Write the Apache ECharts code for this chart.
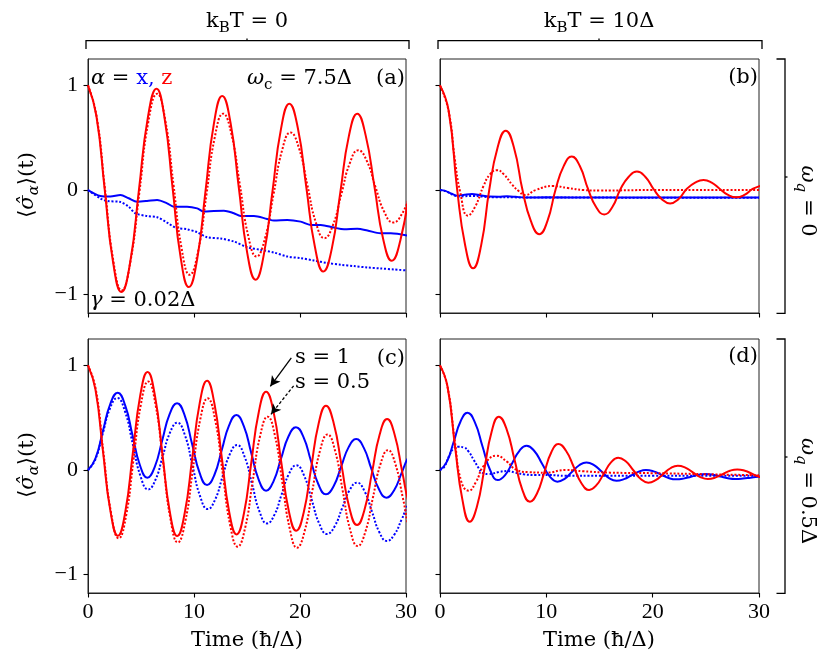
<!DOCTYPE html>
<html><head><meta charset="utf-8">
<script src="https://cdn.jsdelivr.net/npm/echarts@6/dist/echarts.min.js"></script>
<style>html,body{margin:0;padding:0;background:#fff}#c{width:830px;height:666px}</style>
</head><body><div id="c"></div>
<script>
// ---------- tick values ----------
const timeTicks = [0, 10, 20, 30];
const yTicks = [-1, 0, 1];

// ---------- panel (a): kBT = 0, wq = 0 ----------
const aZs1 = [[0,1],[0.79,0.71],[1.57,0.012],[2.36,-0.686],[3.15,-0.975],[3.98,-0.69],[4.8,-0.003],[5.63,0.683],[6.46,0.968],[7.22,0.69],[7.98,0.02],[8.75,-0.65],[9.51,-0.927],[10.3,-0.66],[11.08,-0.015],[11.87,0.63],[12.66,0.898],[13.45,0.64],[14.23,0.02],[15.02,-0.6],[15.81,-0.857],[16.6,-0.61],[17.4,-0.016],[18.2,0.58],[18.99,0.825],[19.8,0.59],[20.6,0.024],[21.4,-0.54],[22.2,-0.778],[23.0,-0.56],[23.8,-0.024],[24.6,0.51],[25.4,0.73],[26.2,0.52],[27.03,0.027],[27.85,-0.47],[28.66,-0.676],[29.47,-0.48],[30.28,-0.02]];
const aZs05 = [[0,1],[0.8,0.71],[1.59,0.02],[2.38,-0.67],[3.18,-0.96],[4.0,-0.685],[4.85,-0.02],[5.68,0.645],[6.52,0.92],[7.29,0.667],[8.06,0.055],[8.83,-0.557],[9.6,-0.81],[10.39,-0.584],[11.18,-0.04],[11.96,0.504],[12.75,0.73],[13.54,0.53],[14.33,0.048],[15.11,-0.435],[15.9,-0.635],[16.7,-0.461],[17.5,-0.043],[18.3,0.376],[19.1,0.55],[19.9,0.402],[20.7,0.045],[21.5,-0.312],[22.3,-0.46],[23.1,-0.337],[23.9,-0.04],[24.7,0.257],[25.5,0.38],[26.3,0.279],[27.1,0.035],[27.95,-0.209],[28.8,-0.31],[29.62,-0.228],[30.45,-0.03]];
const aXs1 = [[0,0],[1.17,-0.057],[2.11,-0.063],[3.06,-0.048],[3.84,-0.079],[4.63,-0.111],[5.57,-0.105],[6.52,-0.095],[7.46,-0.127],[8.09,-0.159],[9.35,-0.159],[10.3,-0.175],[10.93,-0.206],[11.87,-0.2],[12.82,-0.197],[13.76,-0.222],[14.4,-0.248],[15.65,-0.248],[16.9,-0.276],[17.54,-0.292],[18.8,-0.286],[20.06,-0.302],[21.0,-0.333],[21.95,-0.333],[23.2,-0.359],[24.16,-0.375],[25.4,-0.371],[26.36,-0.387],[27.6,-0.413],[28.57,-0.413],[30.1,-0.435]];
const aXs05 = [[0,0],[1.17,-0.08],[1.8,-0.105],[3.06,-0.114],[3.84,-0.159],[4.47,-0.222],[5.57,-0.248],[6.52,-0.26],[7.46,-0.311],[8.25,-0.359],[9.35,-0.375],[10.3,-0.403],[11.24,-0.451],[12.5,-0.463],[13.76,-0.492],[15.02,-0.546],[16.28,-0.571],[17.54,-0.597],[18.8,-0.635],[20.06,-0.651],[21.3,-0.673],[22.58,-0.698],[23.84,-0.714],[25.1,-0.727],[26.36,-0.74],[27.6,-0.749],[28.88,-0.759],[29.98,-0.768]];

// ---------- panel (b): kBT = 10Δ, wq = 0 ----------
const bZs1 = [[0,1],[0.81,0.76],[1.62,0.0],[2.37,-0.53],[3.11,-0.748],[3.87,-0.529],[4.63,0.0],[5.4,0.4],[6.18,0.567],[6.97,0.4],[7.76,0.0],[8.55,-0.298],[9.34,-0.422],[10.1,-0.297],[10.87,0.005],[11.63,0.228],[12.39,0.32],[13.15,0.229],[13.92,0.01],[14.68,-0.162],[15.44,-0.233],[16.21,-0.162],[16.98,0.01],[17.75,0.127],[18.52,0.176],[19.3,0.127],[20.08,0.01],[20.86,-0.088],[21.64,-0.128],[22.42,-0.088],[23.2,0.01],[23.99,0.071],[24.78,0.096],[25.55,0.071],[26.32,0.01],[27.09,-0.047],[27.86,-0.07],[28.63,-0.047],[29.4,0.01],[30.17,0.042],[30.95,0.055]];
const bZs05 = [[0,1],[0.8,0.76],[1.4,0.29],[1.9,-0.02],[2.62,-0.245],[3.3,-0.16],[4.1,0.04],[4.7,0.15],[5.35,0.19],[6.0,0.15],[6.8,0.05],[7.4,-0.01],[8.0,-0.048],[9.0,0.0],[10.6,0.038],[12.0,0.02],[13.5,0.0],[15.0,-0.005],[20.0,0.0],[30.0,0.0]];
const bXs1 = [[0,0],[0.5,-0.008],[1.1,-0.035],[1.6,-0.054],[2.3,-0.045],[3.0,-0.038],[3.8,-0.05],[4.6,-0.063],[5.5,-0.064],[6.3,-0.06],[7.1,-0.065],[8.0,-0.072],[10.0,-0.07],[15.0,-0.072],[20.0,-0.072],[25.0,-0.072],[30.0,-0.072]];
const bXs05 = [[0,0],[0.5,-0.01],[1.1,-0.04],[1.8,-0.062],[2.6,-0.058],[3.4,-0.058],[4.6,-0.068],[6.0,-0.068],[8.0,-0.072],[12.0,-0.072],[20.0,-0.073],[30.0,-0.073]];

// ---------- panel (c): kBT = 0, wq = 0.5Δ ----------
const cZs1 = [[0,1],[0.7,0.77],[1.4,0.19],[2.11,-0.388],[2.82,-0.628],[3.52,-0.399],[4.22,0.155],[4.92,0.708],[5.62,0.937],[6.32,0.708],[7.02,0.155],[7.72,-0.4],[8.42,-0.63],[9.12,-0.413],[9.83,0.11],[10.53,0.635],[11.23,0.853],[11.92,0.638],[12.62,0.12],[13.32,-0.4],[14.02,-0.615],[14.71,-0.415],[15.4,0.067],[16.1,0.548],[16.8,0.748],[17.51,0.553],[18.22,0.084],[18.93,-0.385],[19.65,-0.58],[20.35,-0.405],[21.05,0.018],[21.75,0.44],[22.45,0.615],[23.18,0.448],[23.92,0.045],[24.65,-0.358],[25.38,-0.525],[26.09,-0.377],[26.8,-0.02],[27.51,0.338],[28.22,0.487],[28.93,0.338],[29.65,-0.02],[30.35,-0.345],[31.05,-0.48]];
const cZs05 = [[0,1],[0.72,0.78],[1.45,0.17],[2.18,-0.412],[2.9,-0.653],[3.6,-0.433],[4.29,0.097],[4.99,0.627],[5.68,0.846],[6.38,0.621],[7.08,0.077],[7.78,-0.467],[8.47,-0.692],[9.18,-0.49],[9.88,-0.004],[10.59,0.483],[11.29,0.685],[12.0,0.477],[12.7,-0.024],[13.41,-0.525],[14.12,-0.732],[14.83,-0.55],[15.53,-0.11],[16.24,0.328],[16.95,0.51],[17.64,0.327],[18.33,-0.116],[19.03,-0.559],[19.72,-0.742],[20.44,-0.583],[21.16,-0.2],[21.88,0.182],[22.6,0.34],[23.31,0.184],[24.02,-0.193],[24.73,-0.57],[25.44,-0.726],[26.16,-0.592],[26.87,-0.268],[27.59,0.056],[28.3,0.19],[29.0,0.057],[29.7,-0.265],[30.4,-0.587],[31.1,-0.72]];
const cXs1 = [[0,0],[0.7,0.11],[1.4,0.37],[2.1,0.631],[2.8,0.739],[3.5,0.62],[4.2,0.333],[4.9,0.046],[5.6,-0.073],[6.3,0.031],[7.0,0.283],[7.7,0.534],[8.4,0.638],[9.11,0.524],[9.82,0.248],[10.53,-0.028],[11.23,-0.143],[11.93,-0.045],[12.62,0.191],[13.31,0.427],[14.0,0.525],[14.7,0.419],[15.4,0.164],[16.1,-0.091],[16.8,-0.197],[17.5,-0.108],[18.2,0.106],[18.91,0.32],[19.62,0.408],[20.33,0.314],[21.03,0.088],[21.74,-0.138],[22.45,-0.232],[23.17,-0.155],[23.88,0.032],[24.59,0.219],[25.3,0.296],[26.01,0.214],[26.72,0.016],[27.44,-0.182],[28.15,-0.264],[28.87,-0.195],[29.58,-0.03],[30.29,0.133],[31.0,0.2]];
const cXs05 = [[0,0],[0.69,0.1],[1.38,0.344],[2.07,0.587],[2.76,0.688],[3.49,0.56],[4.22,0.25],[4.95,-0.058],[5.68,-0.185],[6.37,-0.092],[7.05,0.133],[7.74,0.359],[8.43,0.452],[9.15,0.331],[9.86,0.04],[10.58,-0.252],[11.29,-0.373],[11.99,-0.283],[12.68,-0.067],[13.37,0.149],[14.06,0.239],[14.77,0.129],[15.48,-0.135],[16.19,-0.4],[16.89,-0.51],[17.58,-0.429],[18.27,-0.232],[18.96,-0.036],[19.65,0.045],[20.38,-0.051],[21.1,-0.283],[21.83,-0.515],[22.55,-0.611],[23.26,-0.539],[23.97,-0.366],[24.68,-0.193],[25.38,-0.121],[26.09,-0.203],[26.8,-0.4],[27.5,-0.597],[28.2,-0.678],[28.9,-0.617],[29.6,-0.47],[30.3,-0.32],[31.0,-0.26]];

// ---------- panel (d): kBT = 10Δ, wq = 0.5Δ ----------
const dZs1 = [[0,1],[0.7,0.8],[1.42,0.22],[2.11,-0.285],[2.8,-0.494],[3.48,-0.347],[4.17,0.008],[4.85,0.363],[5.53,0.51],[6.26,0.391],[7.0,0.103],[7.73,-0.184],[8.46,-0.303],[9.13,-0.222],[9.8,-0.027],[10.46,0.167],[11.13,0.248],[11.85,0.184],[12.58,0.029],[13.3,-0.126],[14.03,-0.19],[14.71,-0.145],[15.4,-0.036],[16.08,0.073],[16.76,0.118],[17.47,0.083],[18.18,-0.002],[18.88,-0.086],[19.59,-0.121],[20.28,-0.097],[20.98,-0.04],[21.67,0.017],[22.36,0.041],[23.07,0.023],[23.78,-0.022],[24.48,-0.067],[25.19,-0.086],[25.88,-0.073],[26.58,-0.04],[27.27,-0.007],[27.96,0.006],[28.67,-0.007],[29.38,-0.037],[30.09,-0.067],[30.8,-0.08]];
const dZs05 = [[0,1],[0.7,0.8],[1.4,0.27],[2.0,-0.11],[2.7,-0.197],[3.4,-0.11],[4.1,0.04],[5.3,0.137],[6.3,0.08],[7.1,0.006],[8.3,-0.02],[10.0,-0.025],[11.8,0.0],[13.5,-0.012],[16.0,-0.025],[20.0,-0.03],[25.0,-0.04],[30.0,-0.05]];
const dXs1 = [[0,0],[0.65,0.08],[1.29,0.27],[1.94,0.466],[2.58,0.547],[3.29,0.453],[4.0,0.225],[4.72,-0.002],[5.44,-0.096],[6.12,-0.048],[6.8,0.068],[7.47,0.184],[8.14,0.232],[8.87,0.182],[9.6,0.06],[10.32,-0.061],[11.04,-0.111],[11.72,-0.084],[12.4,-0.019],[13.09,0.046],[13.77,0.073],[14.49,0.047],[15.2,-0.015],[15.9,-0.077],[16.6,-0.102],[17.3,-0.087],[18.0,-0.051],[18.69,-0.015],[19.37,0.0],[20.09,-0.013],[20.8,-0.045],[21.5,-0.076],[22.2,-0.089],[22.9,-0.082],[23.6,-0.064],[24.29,-0.046],[24.97,-0.038],[25.67,-0.045],[26.37,-0.062],[27.07,-0.079],[27.77,-0.086],[28.49,-0.082],[29.2,-0.073],[29.9,-0.064],[30.6,-0.06]];
const dXs05 = [[0,0],[0.4,0.03],[0.82,0.127],[1.29,0.206],[1.76,0.222],[2.23,0.216],[2.7,0.175],[3.18,0.095],[3.65,0.016],[3.96,-0.025],[4.59,-0.038],[5.53,-0.019],[6.32,-0.01],[7.1,-0.025],[7.9,-0.041],[9.0,-0.048],[10.25,-0.048],[11.8,-0.055],[15.0,-0.055],[20.0,-0.055],[25.0,-0.055],[30.0,-0.055]];

// arrows in panel (c): [from, to] in data coordinates
const arrowS1 = [[19.18,1.072],[17.2,0.80]];
const arrowS05 = [[19.4,0.805],[17.26,0.532]];

const RED = '#ff0000', BLUE = '#0000ff';
const F = 'DejaVu Serif', FN = 'Liberation Serif';
const FS = 21;
const DOT = [2, 1.8];
const FRAME = '#222';

const grids = [
  {left: 88, top: 59, width: 318, height: 254},
  {left: 440, top: 59, width: 319, height: 254},
  {left: 88, top: 339, width: 318, height: 254},
  {left: 440, top: 339, width: 319, height: 254}
].map(g => Object.assign(g, {show: true, borderColor: FRAME, borderWidth: 1, backgroundColor: 'transparent'}));

const minusFmt = v => (v < 0 ? '\u2212' + Math.abs(v) : String(v));

const xAxes = [0,1,2,3].map(i => ({
  gridIndex: i, type: 'value', min: 0, max: 30, interval: 10, position: 'bottom',
  axisLine: {show: true, onZero: false, lineStyle: {color: FRAME, width: 1}}, splitLine: {show: false},
  axisTick: {show: true, inside: false, length: 4.5, lineStyle: {color: '#000', width: 1.1}},
  axisLabel: {show: i >= 2, fontFamily: FN, fontSize: 22, color: '#000', margin: 8, formatter: minusFmt}
}));
const yAxes = [0,1,2,3].map(i => ({
  gridIndex: i, type: 'value', min: -1.175, max: 1.252, position: 'left',
  axisLine: {show: true, onZero: false, lineStyle: {color: FRAME, width: 1}}, splitLine: {show: false},
  axisTick: {show: true, inside: false, length: 4.5, lineStyle: {color: '#000', width: 1.1}, customValues: yTicks},
  axisLabel: {show: i % 2 === 0, customValues: yTicks, fontFamily: FN, fontSize: 22, color: '#000', margin: 10, formatter: minusFmt}
}));

function ln(data, idx, color, dotted, extra) {
  return Object.assign({
    type: 'line', xAxisIndex: idx, yAxisIndex: idx, data: data,
    symbol: 'none', showSymbol: false, smooth: 0.5, clip: true, silent: true,
    lineStyle: {color: color, width: 2, type: dotted ? DOT : 'solid'}
  }, extra || {});
}

function arrowML(pair, type) {
  return {
    silent: true, symbol: ['none', 'arrow'], symbolSize: [8, 10],
    label: {show: false},
    lineStyle: {color: '#000', width: 1.3, type: type},
    data: [[{coord: pair[0]}, {coord: pair[1]}]]
  };
}

const series = [
  ln(aXs1, 0, BLUE, false, {smooth: 0.3}), ln(aXs05, 0, BLUE, true, {smooth: 0.3}),
  ln(aZs1, 0, RED, false), ln(aZs05, 0, RED, true),
  ln(bXs1, 1, BLUE, false, {smooth: 0.3}), ln(bXs05, 1, BLUE, true, {smooth: 0.3}),
  ln(bZs1, 1, RED, false), ln(bZs05, 1, RED, true),
  ln(cXs1, 2, BLUE, false), ln(cXs05, 2, BLUE, true),
  ln(cZs1, 2, RED, false, {markLine: arrowML(arrowS1, 'solid')}),
  ln(cZs05, 2, RED, true, {markLine: arrowML(arrowS05, [3, 2])}),
  ln(dXs1, 3, BLUE, false), ln(dXs05, 3, BLUE, true),
  ln(dZs1, 3, RED, false), ln(dZs05, 3, RED, true)
];

// ---------- rich text styles ----------
function rich(fs) {
  const sub = Math.round(fs * 0.7);
  const lh = fs + 5;
  const pad = Math.round(fs * 0.57);
  return {
    n: {fontFamily: F, fontSize: fs, lineHeight: lh, fill: '#000'},
    i: {fontFamily: F, fontSize: fs, lineHeight: lh, fontStyle: 'italic', fill: '#000'},
    s: {fontFamily: F, fontSize: sub, lineHeight: sub, padding: [pad, 0, 0, 0], fill: '#000'},
    si: {fontFamily: F, fontSize: sub, lineHeight: sub, padding: [pad, 0, 0, 0], fontStyle: 'italic', fill: '#000'},
    b: {fontFamily: F, fontSize: fs, lineHeight: lh, fill: BLUE},
    r: {fontFamily: F, fontSize: fs, lineHeight: lh, fill: RED}
  };
}
function txt(text, x, y, align, rot) {
  return {
    type: 'text', x: x, y: y, rotation: rot || 0, silent: true, z: 100,
    style: {text: text, align: align || 'center', verticalAlign: 'middle', fontFamily: F, fontSize: FS, fill: '#000', rich: rich(FS)}
  };
}
function poly(points) {
  return {type: 'polyline', silent: true, shape: {points: points}, style: {stroke: '#000', lineWidth: 1.3, fill: null}};
}

const yLabel = '{n|⟨}{i|σ̂}{si|α}{n|⟩(t)}';
const graphic = [
  // top brackets
  poly([[86,49],[86,40.7],[409,40.7],[409,49]]),
  poly([[247,40.7],[247,38.5]]),
  poly([[438,49],[438,40.7],[762,40.7],[762,49]]),
  poly([[599,40.7],[599,38.5]]),
  // right brackets
  poly([[776.5,59],[785,59],[785,313.3],[776.5,313.3]]),
  poly([[785,177],[787.5,177]]),
  poly([[776.5,339],[785,339],[785,593.3],[776.5,593.3]]),
  poly([[785,457],[787.5,457]]),
  // headers
  txt('{n|k}{s|B}{n|T = 0}', 247, 22),
  txt('{n|k}{s|B}{n|T = 10Δ}', 599, 22),
  txt('{i|ω}{si|q}{n| = 0}', 807, 201, 'center', -Math.PI / 2),
  txt('{i|ω}{si|q}{n| = 0.5Δ}', 807, 491, 'center', -Math.PI / 2),
  // y labels
  txt(yLabel, 28, 185, 'center', Math.PI / 2),
  txt(yLabel, 28, 465, 'center', Math.PI / 2),
  // x labels
  txt('{n|Time (ħ/Δ)}', 247, 641),
  txt('{n|Time (ħ/Δ)}', 599, 641),
  // panel annotations
  txt('{i|α}{n| = }{b|x, }{r|z}', 91, 79, 'left'),
  txt('{i|ω}{s|c}{n| = 7.5Δ}', 247, 79, 'left'),
  txt('{n|(a)}', 405, 79, 'right'),
  txt('{i|γ}{n| = 0.02Δ}', 90, 301, 'left'),
  txt('{n|(b)}', 758, 78, 'right'),
  txt('{n|(c)}', 405, 359, 'right'),
  txt('{n|s = 1}', 295, 358, 'left'),
  txt('{n|s = 0.5}', 295, 383, 'left'),
  txt('{n|(d)}', 758, 357, 'right')
];

const chart = echarts.init(document.getElementById('c'), null, {renderer: 'canvas'});
chart.setOption({
  animation: false,
  backgroundColor: '#fff',
  grid: grids,
  xAxis: xAxes,
  yAxis: yAxes,
  series: series,
  graphic: graphic
});
</script>
</body></html>
